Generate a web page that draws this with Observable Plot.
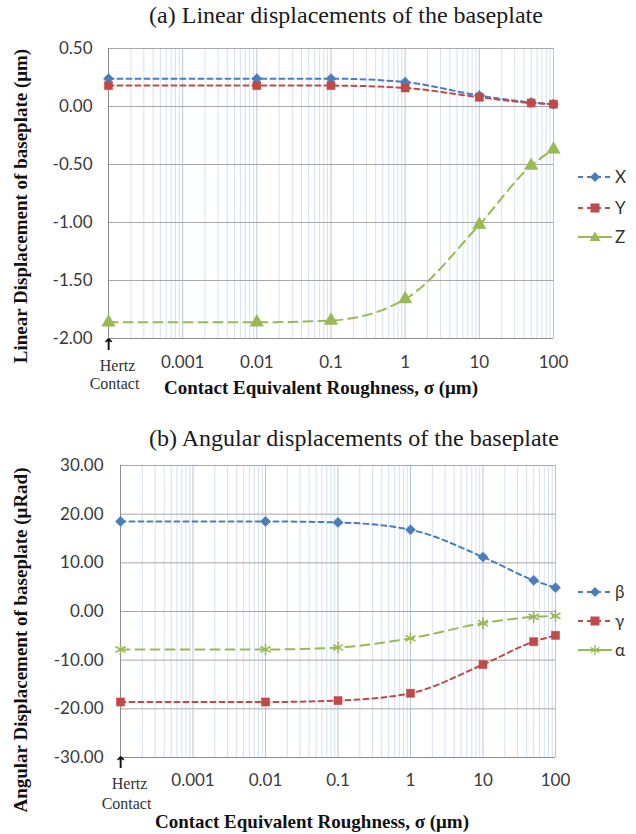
<!DOCTYPE html>
<html>
<head>
<meta charset="utf-8">
<script src="https://cdn.jsdelivr.net/npm/d3@7"></script>
<script src="https://cdn.jsdelivr.net/npm/@observablehq/plot@0.6"></script>
<style>
  body { margin: 0; background: #fff; }
  #page { position: relative; width: 636px; height: 834px; overflow: hidden; background: #fff; }
  .title { position: absolute; width: 600px; text-align: center; font-family: "Liberation Serif", "DejaVu Serif", serif; font-size: 24px; color: #1a1a1a; white-space: nowrap; }
  .legend { position: absolute; }
  .legend svg { display: block; }
</style>
</head>
<body>
<div id="page"></div>
<script>
// ---- data ----
const hertzPos = 1e-4; // "Hertz Contact" plotted at the left end of the log axis
const sigma = [hertzPos, 0.01, 0.1, 1, 10, 50, 100]; // Contact equivalent roughness (µm)

// (a) linear displacements (µm)
const linX = [0.24, 0.24, 0.24, 0.21, 0.095, 0.035, 0.02];
const linY = [0.18, 0.18, 0.18, 0.16, 0.08, 0.03, 0.02];
const linZ = [-1.86, -1.86, -1.845, -1.66, -1.02, -0.51, -0.37];

// (b) angular displacements (µRad)
const angBeta  = [18.5, 18.5, 18.3, 16.8, 11.2, 6.4, 4.9];
const angGamma = [-18.6, -18.6, -18.3, -16.8, -10.9, -6.2, -4.9];
const angAlpha = [-7.8, -7.8, -7.4, -5.5, -2.4, -1.1, -0.9];

const xTickValues = [0.001, 0.01, 0.1, 1, 10, 100];
const xTickLabels = ["0.001", "0.01", "0.1", "1", "10", "100"];
const decades = [1e-4, 1e-3, 1e-2, 1e-1, 1, 10, 100];
const minorMultipliers = [2, 3, 4, 5, 6, 7, 8, 9];
const yTicksA = [0.5, 0, -0.5, -1, -1.5, -2];
const yTicksB = [30, 20, 10, 0, -10, -20, -30];

const seriesA = [
  {name: "X", values: linX, color: "#4a7ebb", symbol: "diamond2", dash: "5,4", r: 4.6, legendDash: "5,4"},
  {name: "Y", values: linY, color: "#be4b48", symbol: "square", dash: "5,4", r: 4.6, legendDash: "5,4"},
  {name: "Z", values: linZ, color: "#98b954", symbol: "triangle", dash: "9,6", r: 5, legendDash: null}
];
const seriesB = [
  {name: "β", values: angBeta, color: "#4a7ebb", symbol: "diamond2", dash: "5,4", r: 4.6, legendDash: "5,4"},
  {name: "γ", values: angGamma, color: "#be4b48", symbol: "square", dash: "5,4", r: 4.6, legendDash: "5,4"},
  {name: "α", values: angAlpha, color: "#98b954", symbol: "asterisk", dash: "9,6", r: 5.5, legendDash: null}
];

// ---- build ----
const minorGrid = decades.slice(0, -1).flatMap(d => minorMultipliers.map(m => m * d));
const toRows = s => sigma.map((x, i) => ({x, y: s.values[i], name: s.name}));

function chart({series, yDomain, yTicks, height, ml, mr, mt, mb, xTickPad, yTickPad, arrowDy, hertzDy, contactDy}) {
  const marks = [
    Plot.ruleX(minorGrid, {stroke: "#d3e2f1", strokeWidth: 1}),
    Plot.ruleX(decades, {stroke: "#b4c8de", strokeWidth: 1}),
    Plot.ruleY(yTicks, {stroke: "#a8a8a8", strokeWidth: 1}),
    Plot.ruleX([hertzPos], {stroke: "#8c8c8c", strokeWidth: 1}),
    Plot.ruleY([yDomain[0]], {stroke: "#8c8c8c", strokeWidth: 1}),
    Plot.axisY({ticks: yTicks, tickSize: 0, tickPadding: yTickPad, tickFormat: d => d.toFixed(2), fill: "#3a3a3a", label: null}),
    Plot.axisX({ticks: xTickValues, tickSize: 0, tickPadding: xTickPad, tickFormat: d => xTickLabels[xTickValues.indexOf(d)], fill: "#3a3a3a", label: null}),
  ];
  for (const s of series) {
    const rows = toRows(s);
    marks.push(Plot.line(rows, {x: "x", y: "y", stroke: s.color, strokeWidth: 2, strokeDasharray: s.dash, curve: "monotone-x"}));
    if (s.symbol === "asterisk") {
      marks.push(Plot.dot(rows, {x: "x", y: "y", symbol: s.symbol, r: s.r, stroke: s.color, strokeWidth: 1.6, fill: "none"}));
    } else {
      marks.push(Plot.dot(rows, {x: "x", y: "y", symbol: s.symbol, r: s.r, fill: s.color, stroke: s.color, strokeWidth: 0.5}));
    }
  }
  // Hertz contact marker under the axis
  marks.push(Plot.text(["↑"], {x: () => hertzPos, frameAnchor: "bottom", dy: arrowDy, fontFamily: "DejaVu Sans", fontWeight: "bold", fontSize: 16, fill: "#111"}));
  marks.push(Plot.text(["Hertz"], {x: () => hertzPos, frameAnchor: "bottom", dx: 9, dy: hertzDy, fontFamily: "Liberation Serif", fontSize: 16, fill: "#333"}));
  marks.push(Plot.text(["Contact"], {x: () => hertzPos, frameAnchor: "bottom", dx: 6, dy: contactDy, fontFamily: "Liberation Serif", fontSize: 16, fill: "#333"}));
  return Plot.plot({
    width: 636, height,
    marginLeft: ml, marginRight: mr, marginTop: mt, marginBottom: mb,
    x: {type: "log", domain: [hertzPos, 100]},
    y: {domain: yDomain},
    style: {fontFamily: "Lato, 'Open Sans', sans-serif", fontSize: "17px", background: "white", overflow: "visible"},
    marks
  });
}

const page = document.getElementById("page");

function addText(svg, txt, x, y, opts) {
  const t = document.createElementNS("http://www.w3.org/2000/svg", "text");
  t.textContent = txt;
  t.setAttribute("x", x); t.setAttribute("y", y);
  for (const k in opts) t.setAttribute(k, opts[k]);
  svg.appendChild(t);
}

// Chart (a)
const svgA = chart({series: seriesA, yDomain: [-2, 0.5], yTicks: yTicksA, height: 400, ml: 108, mr: 83, mt: 48, mb: 62,
  xTickPad: 17, yTickPad: 16, arrowDy: 11, hertzDy: 32, contactDy: 50});
svgA.style.position = "absolute"; svgA.style.top = "0px"; svgA.style.left = "0px";
page.appendChild(svgA);

// Chart (b)
const svgB = chart({series: seriesB, yDomain: [-30, 30], yTicks: yTicksB, height: 434, ml: 120, mr: 81, mt: 65, mb: 77,
  xTickPad: 16, yTickPad: 17, arrowDy: 10, hertzDy: 31, contactDy: 51});
svgB.style.position = "absolute"; svgB.style.top = "400px"; svgB.style.left = "0px";
page.appendChild(svgB);

// Axis titles
const serifBold = {"font-family": "Liberation Serif, serif", "font-weight": "bold", "font-size": "19", "text-anchor": "middle", fill: "#111"};
addText(svgA, "Contact Equivalent Roughness, σ (μm)", 321, 394, serifBold);
addText(svgB, "Contact Equivalent Roughness, σ (μm)", 312, 428, serifBold);
addText(svgA, "Linear Displacement of baseplate (μm)", 0, 0, Object.assign({}, serifBold, {transform: "translate(27,206) rotate(-90)"}));
addText(svgB, "Angular Displacement of baseplate (μRad)", 0, 0, Object.assign({}, serifBold, {transform: "translate(27,240) rotate(-90)"}));

// Titles
function addTitle(txt, cx, top) {
  const d = document.createElement("div");
  d.className = "title";
  d.textContent = txt;
  d.style.left = (cx - 300) + "px";
  d.style.top = top + "px";
  page.appendChild(d);
}
addTitle("(a) Linear displacements of the baseplate", 346, 2);
addTitle("(b) Angular displacements of the baseplate", 354, 425);

// Legends
function legend(series, x, ys) {
  series.forEach((s, i) => {
    const d = document.createElement("div");
    d.className = "legend";
    d.style.left = x + "px";
    d.style.top = (ys[i] - 12) + "px";
    let marker;
    const cx = 17, cy = 12;
    if (s.symbol === "diamond2") marker = `<path d="M${cx},${cy-5}L${cx+5},${cy}L${cx},${cy+5}L${cx-5},${cy}Z" fill="${s.color}"/>`;
    else if (s.symbol === "square") marker = `<rect x="${cx-4.5}" y="${cy-4.5}" width="9" height="9" fill="${s.color}"/>`;
    else if (s.symbol === "triangle") marker = `<path d="M${cx},${cy-5.5}L${cx+5.5},${cy+4}L${cx-5.5},${cy+4}Z" fill="${s.color}"/>`;
    else marker = `<g stroke="${s.color}" stroke-width="1.4"><line x1="${cx}" y1="${cy-5}" x2="${cx}" y2="${cy+5}"/><line x1="${cx-4.5}" y1="${cy-2.5}" x2="${cx+4.5}" y2="${cy+2.5}"/><line x1="${cx-4.5}" y1="${cy+2.5}" x2="${cx+4.5}" y2="${cy-2.5}"/></g>`;
    const dash = s.legendDash ? `stroke-dasharray="${s.legendDash}"` : "";
    d.innerHTML = `<svg width="58" height="24"><line x1="0" y1="${cy}" x2="34" y2="${cy}" stroke="${s.color}" stroke-width="2" ${dash}/>${marker}<text x="37" y="${cy + 6}" font-family="Lato, 'Open Sans', sans-serif" font-size="17" fill="#333">${s.name}</text></svg>`;
    page.appendChild(d);
  });
}
legend(seriesA, 578, [177, 208, 237]);
legend(seriesB, 578, [592, 621, 650]);
</script>
</body>
</html>
